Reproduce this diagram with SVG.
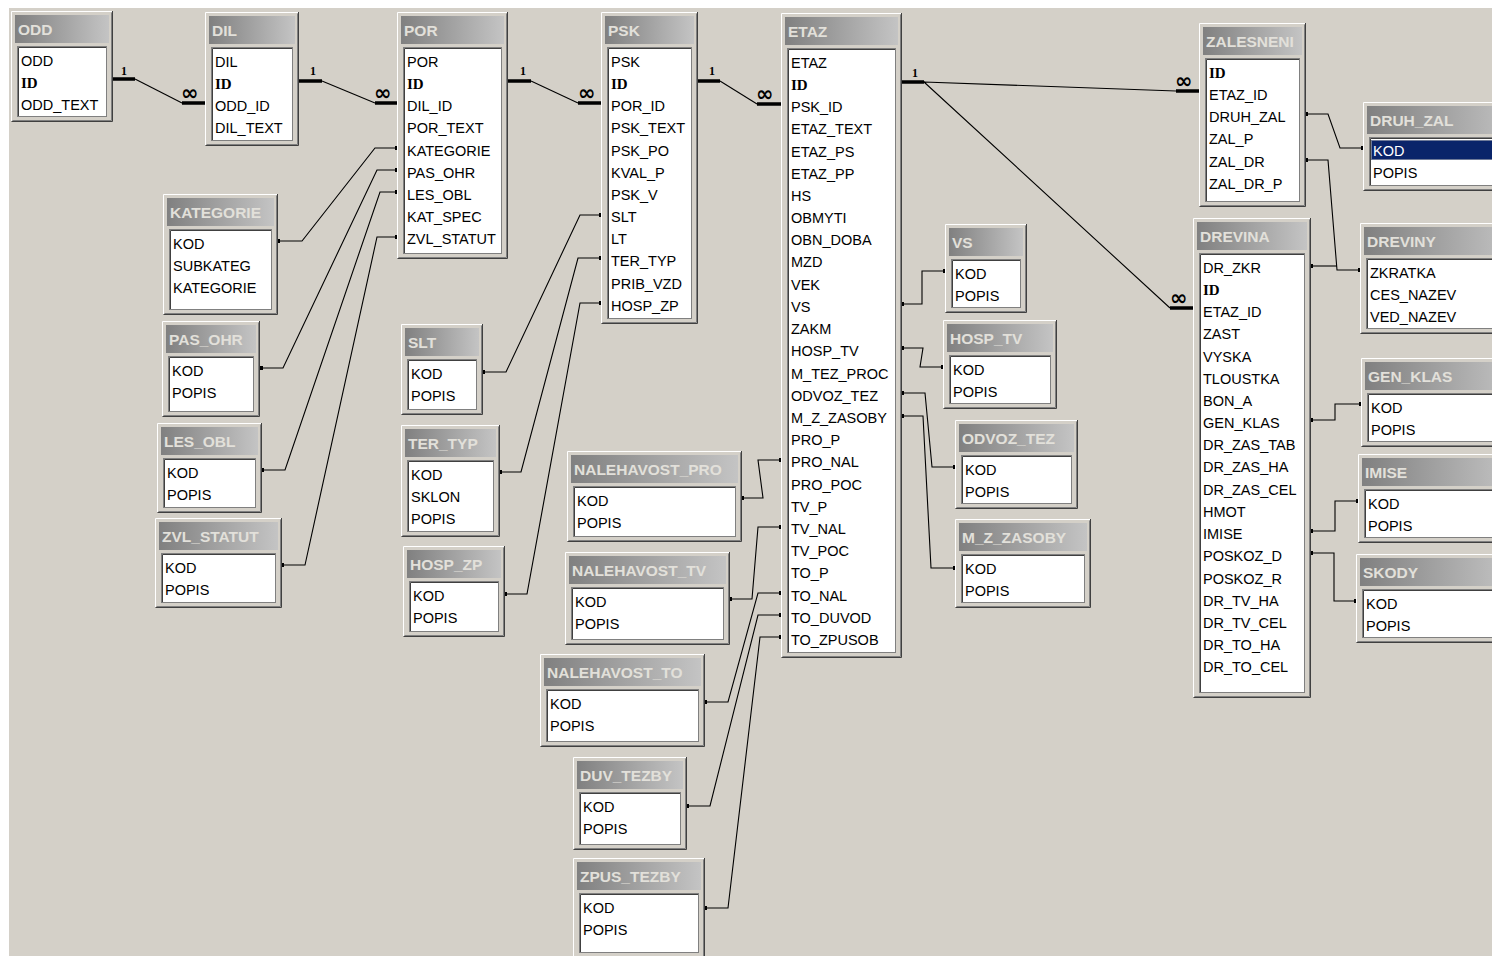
<svg xmlns="http://www.w3.org/2000/svg" width="1492" height="956" viewBox="0 0 1492 956">
<defs>
<linearGradient id="tg" x1="0" y1="0" x2="1" y2="0">
<stop offset="0" stop-color="#808080"/>
<stop offset="1" stop-color="#c4c4c4"/>
</linearGradient>
<marker id="dot" viewBox="0 0 4 4" refX="2" refY="2" markerWidth="4" markerHeight="4" markerUnits="userSpaceOnUse">
<rect width="4" height="4" fill="#000"/>
</marker>
<style>
.fr{fill:#d4d0c8}
.hi{fill:none;stroke:#ffffff}
.sh{fill:none;stroke:#404040}
.sh2{fill:none;stroke:#808080}
.tb{fill:url(#tg)}
.tt{font-family:"Liberation Sans",Arial,sans-serif;font-weight:bold;font-size:15.5px;fill:#e2e0da}
.lb{fill:#ffffff;stroke:#808080}
.lbi{fill:none;stroke:#404040}
.f{font-family:"Liberation Sans",Arial,sans-serif;font-size:14.5px;fill:#000}
.pk{font-family:"Liberation Serif","Times New Roman",serif;font-weight:bold;font-size:15px}
.ln{fill:none;stroke:#000;stroke-width:1.1}
.lk{fill:none;stroke:#000;stroke-width:1.1;marker-start:url(#dot);marker-end:url(#dot)}
.lk1{fill:none;stroke:#000;stroke-width:1.1;marker-start:url(#dot)}
.st{fill:none;stroke:#000;stroke-width:3.5}
.one{font-family:"Liberation Serif",serif;font-weight:bold;font-size:12px;fill:#000}
.inf{font-family:"DejaVu Sans",sans-serif;font-weight:bold;font-size:21px;fill:#000}
</style>
</defs>
<rect width="1492" height="956" fill="#ffffff"/>
<rect x="9" y="8" width="1483" height="948" fill="#d4d0c8"/>

<g id="connectors">
<path class="st" d="M113 79 H135 M182 103 H205"/>
<path class="ln" d="M135 79 L182 103"/>
<path class="st" d="M299 81 H322 M375 103 H397"/>
<path class="ln" d="M322 81 L375 103"/>
<path class="st" d="M508 81 H531 M578 103 H601"/>
<path class="ln" d="M531 81 L578 103"/>
<path class="st" d="M698 81 H720 M757 104 H781"/>
<path class="ln" d="M720 81 L757 104"/>
<path class="st" d="M902 82 H924 M1176 91 H1199 M1170 308 H1193"/>
<path class="ln" d="M924 82 L1176 91 M924 82 L1170 308"/>
<text class="one" x="121" y="75">1</text>
<text class="one" x="310" y="75">1</text>
<text class="one" x="520" y="75">1</text>
<text class="one" x="709" y="75">1</text>
<text class="one" x="912" y="77">1</text>
<text class="inf" x="181" y="100">∞</text>
<text class="inf" x="374" y="100">∞</text>
<text class="inf" x="578" y="100">∞</text>
<text class="inf" x="756" y="101">∞</text>
<text class="inf" x="1175" y="88">∞</text>
<text class="inf" x="1170" y="305">∞</text>
<path class="lk" d="M278 241 H302 L375 148 H397"/>
<path class="lk" d="M261 368 H283 L377 170 H397"/>
<path class="lk" d="M262 470 H285 L380 192 H397"/>
<path class="lk" d="M282 565 H305 L377 237 H397"/>
<path class="lk" d="M483 372 H506 L580 215 H601"/>
<path class="lk" d="M500 472 H521 L578 258 H601"/>
<path class="lk" d="M505 594 H527 L580 303 H601"/>
<path class="lk" d="M742 498 H763 L758 460 H781"/>
<path class="lk" d="M730 599 H752 L758 527 H781"/>
<path class="lk" d="M705 702 H728 L758 593 H781"/>
<path class="lk" d="M687 806 H710 L758 615 H781"/>
<path class="lk" d="M705 908 H728 L760 637 H781"/>
<path class="lk" d="M902 304 H922 V271 H945"/>
<path class="lk" d="M902 348 H923 L920 367 H943"/>
<path class="lk" d="M902 393 H925 L932 467 H955"/>
<path class="lk" d="M902 416 H923 L931 568 H955"/>
<path class="lk" d="M1306 114 H1328 L1340 148 H1363"/>
<path class="lk" d="M1306 160 H1328 L1337 270 H1360"/>
<path class="lk1" d="M1311 266 H1337"/>
<path class="lk" d="M1311 420 H1335 V404 H1361"/>
<path class="lk" d="M1311 531 H1335 V501 H1358"/>
<path class="lk" d="M1311 553 H1334 V601 H1356"/>
</g>

<g id="ODD" transform="translate(11 11)">
<rect class="fr" width="102" height="111"/>
<path class="hi" d="M0.5 110 V0.5 H101"/><path class="sh" d="M0.5 110.5 H101.5 V0"/><path class="sh2" d="M1.5 109.5 H100.5 V1.5"/>
<rect class="tb" x="4" y="4" width="94" height="28"/><text class="tt" x="7" y="24">ODD</text>
<rect class="lb" x="6.5" y="35.5" width="89" height="70"/><path class="lbi" d="M7.5 105 V36.5 H95"/>
<text class="f" x="10" y="54.7"><tspan x="10" y="54.7">ODD</tspan><tspan class="pk" x="10" dy="22.2">ID</tspan><tspan x="10" dy="22.2">ODD_TEXT</tspan></text>
</g>

<g id="DIL" transform="translate(205 12)">
<rect class="fr" width="94" height="134"/>
<path class="hi" d="M0.5 133 V0.5 H93"/><path class="sh" d="M0.5 133.5 H93.5 V0"/><path class="sh2" d="M1.5 132.5 H92.5 V1.5"/>
<rect class="tb" x="4" y="4" width="86" height="28"/><text class="tt" x="7" y="24">DIL</text>
<rect class="lb" x="6.5" y="35.5" width="81" height="93"/><path class="lbi" d="M7.5 128 V36.5 H87"/>
<text class="f"><tspan x="10" y="54.7">DIL</tspan><tspan class="pk" x="10" dy="22.2">ID</tspan><tspan x="10" dy="22.2">ODD_ID</tspan><tspan x="10" dy="22.2">DIL_TEXT</tspan></text>
</g>

<g id="POR" transform="translate(397 12)">
<rect class="fr" width="111" height="247"/>
<path class="hi" d="M0.5 246 V0.5 H110"/><path class="sh" d="M0.5 246.5 H110.5 V0"/><path class="sh2" d="M1.5 245.5 H109.5 V1.5"/>
<rect class="tb" x="4" y="4" width="103" height="28"/><text class="tt" x="7" y="24">POR</text>
<rect class="lb" x="6.5" y="35.5" width="98" height="206"/><path class="lbi" d="M7.5 241 V36.5 H104"/>
<text class="f"><tspan x="10" y="54.7">POR</tspan><tspan class="pk" x="10" dy="22.2">ID</tspan><tspan x="10" dy="22.2">DIL_ID</tspan><tspan x="10" dy="22.2">POR_TEXT</tspan><tspan x="10" dy="22.2">KATEGORIE</tspan><tspan x="10" dy="22.2">PAS_OHR</tspan><tspan x="10" dy="22.2">LES_OBL</tspan><tspan x="10" dy="22.2">KAT_SPEC</tspan><tspan x="10" dy="22.2">ZVL_STATUT</tspan></text>
</g>

<g id="PSK" transform="translate(601 12)">
<rect class="fr" width="97" height="312"/>
<path class="hi" d="M0.5 311 V0.5 H96"/><path class="sh" d="M0.5 311.5 H96.5 V0"/><path class="sh2" d="M1.5 310.5 H95.5 V1.5"/>
<rect class="tb" x="4" y="4" width="89" height="28"/><text class="tt" x="7" y="24">PSK</text>
<rect class="lb" x="6.5" y="35.5" width="84" height="271"/><path class="lbi" d="M7.5 306 V36.5 H90"/>
<text class="f"><tspan x="10" y="54.7">PSK</tspan><tspan class="pk" x="10" dy="22.2">ID</tspan><tspan x="10" dy="22.2">POR_ID</tspan><tspan x="10" dy="22.2">PSK_TEXT</tspan><tspan x="10" dy="22.2">PSK_PO</tspan><tspan x="10" dy="22.2">KVAL_P</tspan><tspan x="10" dy="22.2">PSK_V</tspan><tspan x="10" dy="22.2">SLT</tspan><tspan x="10" dy="22.2">LT</tspan><tspan x="10" dy="22.2">TER_TYP</tspan><tspan x="10" dy="22.2">PRIB_VZD</tspan><tspan x="10" dy="22.2">HOSP_ZP</tspan></text>
</g>

<g id="ETAZ" transform="translate(781 13)">
<rect class="fr" width="121" height="645"/>
<path class="hi" d="M0.5 644 V0.5 H120"/><path class="sh" d="M0.5 644.5 H120.5 V0"/><path class="sh2" d="M1.5 643.5 H119.5 V1.5"/>
<rect class="tb" x="4" y="4" width="113" height="28"/><text class="tt" x="7" y="24">ETAZ</text>
<rect class="lb" x="6.5" y="35.5" width="108" height="604"/><path class="lbi" d="M7.5 639 V36.5 H114"/>
<text class="f"><tspan x="10" y="54.7">ETAZ</tspan><tspan class="pk" x="10" dy="22.2">ID</tspan><tspan x="10" dy="22.2">PSK_ID</tspan><tspan x="10" dy="22.2">ETAZ_TEXT</tspan><tspan x="10" dy="22.2">ETAZ_PS</tspan><tspan x="10" dy="22.2">ETAZ_PP</tspan><tspan x="10" dy="22.2">HS</tspan><tspan x="10" dy="22.2">OBMYTI</tspan><tspan x="10" dy="22.2">OBN_DOBA</tspan><tspan x="10" dy="22.2">MZD</tspan><tspan x="10" dy="22.2">VEK</tspan><tspan x="10" dy="22.2">VS</tspan><tspan x="10" dy="22.2">ZAKM</tspan><tspan x="10" dy="22.2">HOSP_TV</tspan><tspan x="10" dy="22.2">M_TEZ_PROC</tspan><tspan x="10" dy="22.2">ODVOZ_TEZ</tspan><tspan x="10" dy="22.2">M_Z_ZASOBY</tspan><tspan x="10" dy="22.2">PRO_P</tspan><tspan x="10" dy="22.2">PRO_NAL</tspan><tspan x="10" dy="22.2">PRO_POC</tspan><tspan x="10" dy="22.2">TV_P</tspan><tspan x="10" dy="22.2">TV_NAL</tspan><tspan x="10" dy="22.2">TV_POC</tspan><tspan x="10" dy="22.2">TO_P</tspan><tspan x="10" dy="22.2">TO_NAL</tspan><tspan x="10" dy="22.2">TO_DUVOD</tspan><tspan x="10" dy="22.2">TO_ZPUSOB</tspan></text>
</g>

<g id="ZALESNENI" transform="translate(1199 23)">
<rect class="fr" width="107" height="184"/>
<path class="hi" d="M0.5 183 V0.5 H106"/><path class="sh" d="M0.5 183.5 H106.5 V0"/><path class="sh2" d="M1.5 182.5 H105.5 V1.5"/>
<rect class="tb" x="4" y="4" width="99" height="28"/><text class="tt" x="7" y="24">ZALESNENI</text>
<rect class="lb" x="6.5" y="35.5" width="94" height="143"/><path class="lbi" d="M7.5 178 V36.5 H100"/>
<text class="f"><tspan class="pk" x="10" y="54.7">ID</tspan><tspan x="10" dy="22.2">ETAZ_ID</tspan><tspan x="10" dy="22.2">DRUH_ZAL</tspan><tspan x="10" dy="22.2">ZAL_P</tspan><tspan x="10" dy="22.2">ZAL_DR</tspan><tspan x="10" dy="22.2">ZAL_DR_P</tspan></text>
</g>

<g id="DRUH_ZAL" transform="translate(1363 102)">
<rect class="fr" width="160" height="89"/>
<path class="hi" d="M0.5 88 V0.5 H159"/><path class="sh" d="M0.5 88.5 H159.5 V0"/><path class="sh2" d="M1.5 87.5 H158.5 V1.5"/>
<rect class="tb" x="4" y="4" width="152" height="28"/><text class="tt" x="7" y="24">DRUH_ZAL</text>
<rect class="lb" x="6.5" y="35.5" width="147" height="48"/><path class="lbi" d="M7.5 83 V36.5 H153"/>
<rect x="8" y="38" width="145" height="20" fill="#0a246a"/>
<rect x="8.5" y="38.5" width="144" height="19" fill="none" stroke="#d4d0c8" stroke-dasharray="1 1"/>
<text class="f"><tspan x="10" y="53.7" fill="#ffffff">KOD</tspan><tspan x="10" y="76">POPIS</tspan></text>
</g>

<g id="DREVINA" transform="translate(1193 218)">
<rect class="fr" width="118" height="480"/>
<path class="hi" d="M0.5 479 V0.5 H117"/><path class="sh" d="M0.5 479.5 H117.5 V0"/><path class="sh2" d="M1.5 478.5 H116.5 V1.5"/>
<rect class="tb" x="4" y="4" width="110" height="28"/><text class="tt" x="7" y="24">DREVINA</text>
<rect class="lb" x="6.5" y="35.5" width="105" height="439"/><path class="lbi" d="M7.5 474 V36.5 H111"/>
<text class="f"><tspan x="10" y="54.7">DR_ZKR</tspan><tspan class="pk" x="10" dy="22.2">ID</tspan><tspan x="10" dy="22.2">ETAZ_ID</tspan><tspan x="10" dy="22.2">ZAST</tspan><tspan x="10" dy="22.2">VYSKA</tspan><tspan x="10" dy="22.2">TLOUSTKA</tspan><tspan x="10" dy="22.2">BON_A</tspan><tspan x="10" dy="22.2">GEN_KLAS</tspan><tspan x="10" dy="22.2">DR_ZAS_TAB</tspan><tspan x="10" dy="22.2">DR_ZAS_HA</tspan><tspan x="10" dy="22.2">DR_ZAS_CEL</tspan><tspan x="10" dy="22.2">HMOT</tspan><tspan x="10" dy="22.2">IMISE</tspan><tspan x="10" dy="22.2">POSKOZ_D</tspan><tspan x="10" dy="22.2">POSKOZ_R</tspan><tspan x="10" dy="22.2">DR_TV_HA</tspan><tspan x="10" dy="22.2">DR_TV_CEL</tspan><tspan x="10" dy="22.2">DR_TO_HA</tspan><tspan x="10" dy="22.2">DR_TO_CEL</tspan></text>
</g>

<g id="DREVINY" transform="translate(1360 223)">
<rect class="fr" width="160" height="111"/>
<path class="hi" d="M0.5 110 V0.5 H159"/><path class="sh" d="M0.5 110.5 H159.5 V0"/><path class="sh2" d="M1.5 109.5 H158.5 V1.5"/>
<rect class="tb" x="4" y="4" width="152" height="28"/><text class="tt" x="7" y="24">DREVINY</text>
<rect class="lb" x="6.5" y="35.5" width="147" height="70"/><path class="lbi" d="M7.5 105 V36.5 H153"/>
<text class="f"><tspan x="10" y="54.7">ZKRATKA</tspan><tspan x="10" dy="22.2">CES_NAZEV</tspan><tspan x="10" dy="22.2">VED_NAZEV</tspan></text>
</g>

<g id="GEN_KLAS" transform="translate(1361 358)">
<rect class="fr" width="160" height="89"/>
<path class="hi" d="M0.5 88 V0.5 H159"/><path class="sh" d="M0.5 88.5 H159.5 V0"/><path class="sh2" d="M1.5 87.5 H158.5 V1.5"/>
<rect class="tb" x="4" y="4" width="152" height="28"/><text class="tt" x="7" y="24">GEN_KLAS</text>
<rect class="lb" x="6.5" y="35.5" width="147" height="48"/><path class="lbi" d="M7.5 83 V36.5 H153"/>
<text class="f"><tspan x="10" y="54.7">KOD</tspan><tspan x="10" dy="22.2">POPIS</tspan></text>
</g>

<g id="IMISE" transform="translate(1358 454)">
<rect class="fr" width="160" height="89"/>
<path class="hi" d="M0.5 88 V0.5 H159"/><path class="sh" d="M0.5 88.5 H159.5 V0"/><path class="sh2" d="M1.5 87.5 H158.5 V1.5"/>
<rect class="tb" x="4" y="4" width="152" height="28"/><text class="tt" x="7" y="24">IMISE</text>
<rect class="lb" x="6.5" y="35.5" width="147" height="48"/><path class="lbi" d="M7.5 83 V36.5 H153"/>
<text class="f"><tspan x="10" y="54.7">KOD</tspan><tspan x="10" dy="22.2">POPIS</tspan></text>
</g>

<g id="SKODY" transform="translate(1356 554)">
<rect class="fr" width="160" height="89"/>
<path class="hi" d="M0.5 88 V0.5 H159"/><path class="sh" d="M0.5 88.5 H159.5 V0"/><path class="sh2" d="M1.5 87.5 H158.5 V1.5"/>
<rect class="tb" x="4" y="4" width="152" height="28"/><text class="tt" x="7" y="24">SKODY</text>
<rect class="lb" x="6.5" y="35.5" width="147" height="48"/><path class="lbi" d="M7.5 83 V36.5 H153"/>
<text class="f"><tspan x="10" y="54.7">KOD</tspan><tspan x="10" dy="22.2">POPIS</tspan></text>
</g>

<g id="VS" transform="translate(945 224)">
<rect class="fr" width="82" height="89"/>
<path class="hi" d="M0.5 88 V0.5 H81"/><path class="sh" d="M0.5 88.5 H81.5 V0"/><path class="sh2" d="M1.5 87.5 H80.5 V1.5"/>
<rect class="tb" x="4" y="4" width="74" height="28"/><text class="tt" x="7" y="24">VS</text>
<rect class="lb" x="6.5" y="35.5" width="69" height="48"/><path class="lbi" d="M7.5 83 V36.5 H75"/>
<text class="f"><tspan x="10" y="54.7">KOD</tspan><tspan x="10" dy="22.2">POPIS</tspan></text>
</g>

<g id="HOSP_TV" transform="translate(943 320)">
<rect class="fr" width="114" height="89"/>
<path class="hi" d="M0.5 88 V0.5 H113"/><path class="sh" d="M0.5 88.5 H113.5 V0"/><path class="sh2" d="M1.5 87.5 H112.5 V1.5"/>
<rect class="tb" x="4" y="4" width="106" height="28"/><text class="tt" x="7" y="24">HOSP_TV</text>
<rect class="lb" x="6.5" y="35.5" width="101" height="48"/><path class="lbi" d="M7.5 83 V36.5 H107"/>
<text class="f"><tspan x="10" y="54.7">KOD</tspan><tspan x="10" dy="22.2">POPIS</tspan></text>
</g>

<g id="ODVOZ_TEZ" transform="translate(955 420)">
<rect class="fr" width="123" height="89"/>
<path class="hi" d="M0.5 88 V0.5 H122"/><path class="sh" d="M0.5 88.5 H122.5 V0"/><path class="sh2" d="M1.5 87.5 H121.5 V1.5"/>
<rect class="tb" x="4" y="4" width="115" height="28"/><text class="tt" x="7" y="24">ODVOZ_TEZ</text>
<rect class="lb" x="6.5" y="35.5" width="110" height="48"/><path class="lbi" d="M7.5 83 V36.5 H116"/>
<text class="f"><tspan x="10" y="54.7">KOD</tspan><tspan x="10" dy="22.2">POPIS</tspan></text>
</g>

<g id="M_Z_ZASOBY" transform="translate(955 519)">
<rect class="fr" width="136" height="89"/>
<path class="hi" d="M0.5 88 V0.5 H135"/><path class="sh" d="M0.5 88.5 H135.5 V0"/><path class="sh2" d="M1.5 87.5 H134.5 V1.5"/>
<rect class="tb" x="4" y="4" width="128" height="28"/><text class="tt" x="7" y="24">M_Z_ZASOBY</text>
<rect class="lb" x="6.5" y="35.5" width="123" height="48"/><path class="lbi" d="M7.5 83 V36.5 H129"/>
<text class="f"><tspan x="10" y="54.7">KOD</tspan><tspan x="10" dy="22.2">POPIS</tspan></text>
</g>

<g id="KATEGORIE" transform="translate(163 194)">
<rect class="fr" width="115" height="121"/>
<path class="hi" d="M0.5 120 V0.5 H114"/><path class="sh" d="M0.5 120.5 H114.5 V0"/><path class="sh2" d="M1.5 119.5 H113.5 V1.5"/>
<rect class="tb" x="4" y="4" width="107" height="28"/><text class="tt" x="7" y="24">KATEGORIE</text>
<rect class="lb" x="6.5" y="35.5" width="102" height="80"/><path class="lbi" d="M7.5 115 V36.5 H108"/>
<text class="f"><tspan x="10" y="54.7">KOD</tspan><tspan x="10" dy="22.2">SUBKATEG</tspan><tspan x="10" dy="22.2">KATEGORIE</tspan></text>
</g>

<g id="PAS_OHR" transform="translate(162 321)">
<rect class="fr" width="98" height="96"/>
<path class="hi" d="M0.5 95 V0.5 H97"/><path class="sh" d="M0.5 95.5 H97.5 V0"/><path class="sh2" d="M1.5 94.5 H96.5 V1.5"/>
<rect class="tb" x="4" y="4" width="90" height="28"/><text class="tt" x="7" y="24">PAS_OHR</text>
<rect class="lb" x="6.5" y="35.5" width="85" height="55"/><path class="lbi" d="M7.5 90 V36.5 H91"/>
<text class="f"><tspan x="10" y="54.7">KOD</tspan><tspan x="10" dy="22.2">POPIS</tspan></text>
</g>

<g id="LES_OBL" transform="translate(157 423)">
<rect class="fr" width="105" height="90"/>
<path class="hi" d="M0.5 89 V0.5 H104"/><path class="sh" d="M0.5 89.5 H104.5 V0"/><path class="sh2" d="M1.5 88.5 H103.5 V1.5"/>
<rect class="tb" x="4" y="4" width="97" height="28"/><text class="tt" x="7" y="24">LES_OBL</text>
<rect class="lb" x="6.5" y="35.5" width="92" height="49"/><path class="lbi" d="M7.5 84 V36.5 H98"/>
<text class="f"><tspan x="10" y="54.7">KOD</tspan><tspan x="10" dy="22.2">POPIS</tspan></text>
</g>

<g id="ZVL_STATUT" transform="translate(155 518)">
<rect class="fr" width="127" height="90"/>
<path class="hi" d="M0.5 89 V0.5 H126"/><path class="sh" d="M0.5 89.5 H126.5 V0"/><path class="sh2" d="M1.5 88.5 H125.5 V1.5"/>
<rect class="tb" x="4" y="4" width="119" height="28"/><text class="tt" x="7" y="24">ZVL_STATUT</text>
<rect class="lb" x="6.5" y="35.5" width="114" height="49"/><path class="lbi" d="M7.5 84 V36.5 H120"/>
<text class="f"><tspan x="10" y="54.7">KOD</tspan><tspan x="10" dy="22.2">POPIS</tspan></text>
</g>

<g id="SLT" transform="translate(401 324)">
<rect class="fr" width="82" height="91"/>
<path class="hi" d="M0.5 90 V0.5 H81"/><path class="sh" d="M0.5 90.5 H81.5 V0"/><path class="sh2" d="M1.5 89.5 H80.5 V1.5"/>
<rect class="tb" x="4" y="4" width="74" height="28"/><text class="tt" x="7" y="24">SLT</text>
<rect class="lb" x="6.5" y="35.5" width="69" height="50"/><path class="lbi" d="M7.5 85 V36.5 H75"/>
<text class="f"><tspan x="10" y="54.7">KOD</tspan><tspan x="10" dy="22.2">POPIS</tspan></text>
</g>

<g id="TER_TYP" transform="translate(401 425)">
<rect class="fr" width="99" height="112"/>
<path class="hi" d="M0.5 111 V0.5 H98"/><path class="sh" d="M0.5 111.5 H98.5 V0"/><path class="sh2" d="M1.5 110.5 H97.5 V1.5"/>
<rect class="tb" x="4" y="4" width="91" height="28"/><text class="tt" x="7" y="24">TER_TYP</text>
<rect class="lb" x="6.5" y="35.5" width="86" height="71"/><path class="lbi" d="M7.5 106 V36.5 H92"/>
<text class="f"><tspan x="10" y="54.7">KOD</tspan><tspan x="10" dy="22.2">SKLON</tspan><tspan x="10" dy="22.2">POPIS</tspan></text>
</g>

<g id="HOSP_ZP" transform="translate(403 546)">
<rect class="fr" width="102" height="91"/>
<path class="hi" d="M0.5 90 V0.5 H101"/><path class="sh" d="M0.5 90.5 H101.5 V0"/><path class="sh2" d="M1.5 89.5 H100.5 V1.5"/>
<rect class="tb" x="4" y="4" width="94" height="28"/><text class="tt" x="7" y="24">HOSP_ZP</text>
<rect class="lb" x="6.5" y="35.5" width="89" height="50"/><path class="lbi" d="M7.5 85 V36.5 H95"/>
<text class="f"><tspan x="10" y="54.7">KOD</tspan><tspan x="10" dy="22.2">POPIS</tspan></text>
</g>

<g id="NALEHAVOST_PRO" transform="translate(567 451)">
<rect class="fr" width="175" height="91"/>
<path class="hi" d="M0.5 90 V0.5 H174"/><path class="sh" d="M0.5 90.5 H174.5 V0"/><path class="sh2" d="M1.5 89.5 H173.5 V1.5"/>
<rect class="tb" x="4" y="4" width="167" height="28"/><text class="tt" x="7" y="24">NALEHAVOST_PRO</text>
<rect class="lb" x="6.5" y="35.5" width="162" height="50"/><path class="lbi" d="M7.5 85 V36.5 H168"/>
<text class="f"><tspan x="10" y="54.7">KOD</tspan><tspan x="10" dy="22.2">POPIS</tspan></text>
</g>

<g id="NALEHAVOST_TV" transform="translate(565 552)">
<rect class="fr" width="165" height="93"/>
<path class="hi" d="M0.5 92 V0.5 H164"/><path class="sh" d="M0.5 92.5 H164.5 V0"/><path class="sh2" d="M1.5 91.5 H163.5 V1.5"/>
<rect class="tb" x="4" y="4" width="157" height="28"/><text class="tt" x="7" y="24">NALEHAVOST_TV</text>
<rect class="lb" x="6.5" y="35.5" width="152" height="52"/><path class="lbi" d="M7.5 87 V36.5 H158"/>
<text class="f"><tspan x="10" y="54.7">KOD</tspan><tspan x="10" dy="22.2">POPIS</tspan></text>
</g>

<g id="NALEHAVOST_TO" transform="translate(540 654)">
<rect class="fr" width="165" height="93"/>
<path class="hi" d="M0.5 92 V0.5 H164"/><path class="sh" d="M0.5 92.5 H164.5 V0"/><path class="sh2" d="M1.5 91.5 H163.5 V1.5"/>
<rect class="tb" x="4" y="4" width="157" height="28"/><text class="tt" x="7" y="24">NALEHAVOST_TO</text>
<rect class="lb" x="6.5" y="35.5" width="152" height="52"/><path class="lbi" d="M7.5 87 V36.5 H158"/>
<text class="f"><tspan x="10" y="54.7">KOD</tspan><tspan x="10" dy="22.2">POPIS</tspan></text>
</g>

<g id="DUV_TEZBY" transform="translate(573 757)">
<rect class="fr" width="114" height="93"/>
<path class="hi" d="M0.5 92 V0.5 H113"/><path class="sh" d="M0.5 92.5 H113.5 V0"/><path class="sh2" d="M1.5 91.5 H112.5 V1.5"/>
<rect class="tb" x="4" y="4" width="106" height="28"/><text class="tt" x="7" y="24">DUV_TEZBY</text>
<rect class="lb" x="6.5" y="35.5" width="101" height="52"/><path class="lbi" d="M7.5 87 V36.5 H107"/>
<text class="f"><tspan x="10" y="54.7">KOD</tspan><tspan x="10" dy="22.2">POPIS</tspan></text>
</g>

<g id="ZPUS_TEZBY" transform="translate(573 858)">
<rect class="fr" width="132" height="100"/>
<path class="hi" d="M0.5 99 V0.5 H131"/><path class="sh" d="M0.5 99.5 H131.5 V0"/><path class="sh2" d="M1.5 98.5 H130.5 V1.5"/>
<rect class="tb" x="4" y="4" width="124" height="28"/><text class="tt" x="7" y="24">ZPUS_TEZBY</text>
<rect class="lb" x="6.5" y="35.5" width="119" height="59"/><path class="lbi" d="M7.5 94 V36.5 H125"/>
<text class="f"><tspan x="10" y="54.7">KOD</tspan><tspan x="10" dy="22.2">POPIS</tspan></text>
</g>
</svg>
